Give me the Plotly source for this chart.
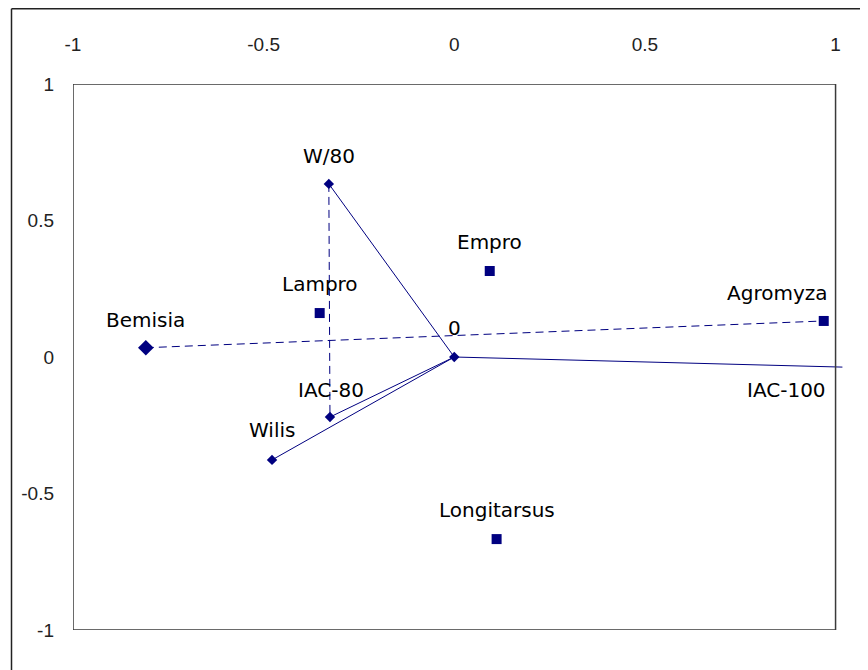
import plotly.graph_objects as go

# --- data ---
origin = (0.0, 0.0)
var_names = ["W/80", "IAC-80", "Wilis", "IAC-100"]
var_x = [-0.329, -0.326, -0.478, 1.018]
var_y = [0.634, -0.220, -0.377, -0.037]

sp_names = ["Lampro", "Empro", "Agromyza", "Longitarsus"]
sp_x = [-0.353, 0.093, 0.969, 0.111]
sp_y = [0.161, 0.315, 0.132, -0.667]

bem_name = "Bemisia"
bem_x = -0.809
bem_y = 0.034

tick_vals = [-1, -0.5, 0, 0.5, 1]
tick_text = ["-1", "-0.5", "0", "0.5", "1"]

NAVY = "#000080"
fig = go.Figure()

# solid vectors from origin
for i, n in enumerate(var_names):
    fig.add_trace(go.Scatter(x=[origin[0], var_x[i]], y=[origin[1], var_y[i]], mode="lines",
                             line=dict(color=NAVY, width=1), hoverinfo="skip", showlegend=False))

# dashed lines
fig.add_trace(go.Scatter(x=[var_x[0], var_x[1]], y=[var_y[0], var_y[1]], mode="lines",
                         line=dict(color=NAVY, width=1, dash="8px,5px"), showlegend=False))
ag = sp_names.index("Agromyza")
fig.add_trace(go.Scatter(x=[bem_x, sp_x[ag]], y=[bem_y, sp_y[ag]], mode="lines",
                         line=dict(color=NAVY, width=1, dash="8px,5px"), showlegend=False))

# diamond markers (variables + origin)
fig.add_trace(go.Scatter(x=[origin[0]] + var_x[:3], y=[origin[1]] + var_y[:3], mode="markers",
                         marker=dict(symbol="diamond", size=8, color=NAVY), showlegend=False))
fig.add_trace(go.Scatter(x=[bem_x], y=[bem_y], mode="markers",
                         marker=dict(symbol="diamond", size=12, color=NAVY), showlegend=False))
# squares
fig.add_trace(go.Scatter(x=sp_x, y=sp_y, mode="markers",
                         marker=dict(symbol="square", size=10, color=NAVY), showlegend=False))

LF = dict(family="DejaVu Sans", size=20, color="#000000")

def lab(text, x, y, xs=0, ys=28, xa="center"):
    fig.add_annotation(x=x, y=y, text=text, showarrow=False, xanchor=xa, yanchor="middle",
                       xshift=xs, yshift=ys, font=LF)

lab("W/80", var_x[0], var_y[0], ys=28)
lab("IAC-80", var_x[1], var_y[1], xs=1, ys=27)
lab("Wilis", var_x[2], var_y[2], ys=30)
lab("IAC-100", var_x[3], var_y[3], xs=-14, ys=-23, xa="right")
lab("0", origin[0], origin[1], ys=29)
lab(bem_name, bem_x, bem_y, ys=28)
for i, n in enumerate(sp_names):
    if n == "Agromyza":
        lab(n, sp_x[i], sp_y[i], xs=5, ys=28, xa="right")
    else:
        lab(n, sp_x[i], sp_y[i], ys=29)

# plot-area frame
fig.add_shape(type="rect", xref="x", yref="y", x0=-1, x1=1, y0=-1, y1=1,
              line=dict(color="#3a3a3a", width=1.5), layer="above")

W, H = 860, 662
ML, MR, MT, MB = 65, 21, 76, 40
pw, ph = W - ML - MR, H - MT - MB
def px2paper_x(px):
    return (px - ML) / pw
def px2paper_y(py):
    return (H - MB - py) / ph
# outer chart border: only top and left edges are visible in the reference
fig.add_shape(type="line", xref="paper", yref="paper",
              x0=px2paper_x(3.5), x1=px2paper_x(W), y0=px2paper_y(0.75), y1=px2paper_y(0.75),
              line=dict(color="#222222", width=1.5))
fig.add_shape(type="line", xref="paper", yref="paper",
              x0=px2paper_x(3.5), x1=px2paper_x(3.5), y0=px2paper_y(0.75), y1=px2paper_y(H),
              line=dict(color="#222222", width=1.5))

TF = dict(family="Liberation Sans, Arial", size=19, color="#222222")
fig.update_layout(
    width=W, height=H, margin=dict(l=ML, r=MR, t=MT, b=MB),
    paper_bgcolor="white", plot_bgcolor="white",
    xaxis=dict(range=[-1, 1.03], side="top", showgrid=False, zeroline=False,
               showline=False, tickvals=tick_vals, ticktext=tick_text, tickfont=TF,
               ticks="", ticklabelstandoff=28),
    yaxis=dict(range=[-1, 1], showgrid=False, zeroline=False, showline=False,
               tickvals=tick_vals, ticktext=tick_text, tickfont=TF, ticks="", ticklabelstandoff=18),
)

fig.write_html("out.html", post_script="document.documentElement.style.overflow='hidden';document.body.style.overflow='hidden';")
